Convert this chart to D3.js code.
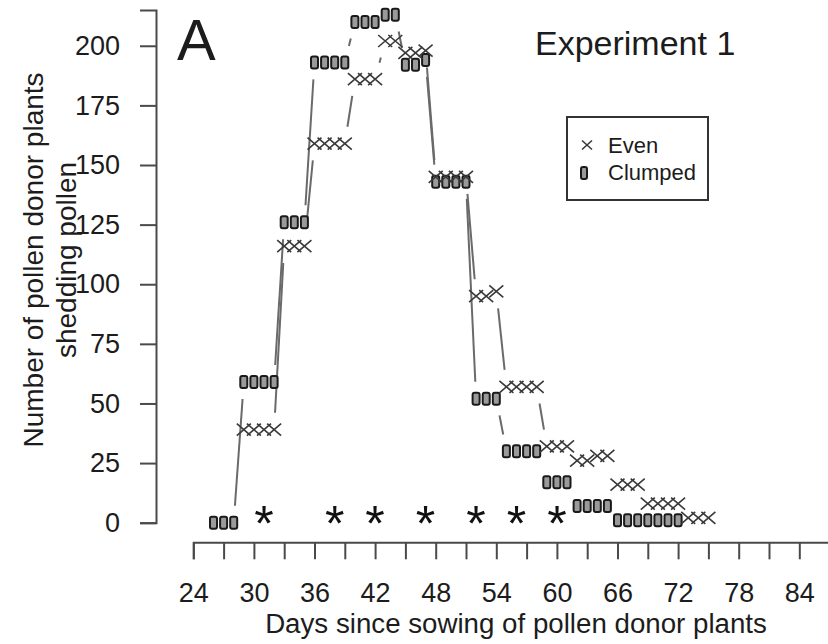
<!DOCTYPE html>
<html>
<head>
<meta charset="utf-8">
<script src="https://cdn.jsdelivr.net/npm/d3@7"></script>
<style>
  html, body { margin: 0; padding: 0; background: #fff; }
  svg { display: block; font-family: "Liberation Sans", Arial, Helvetica, sans-serif; }
</style>
</head>
<body>
<svg id="chart" width="828" height="644"></svg>
<script>
// Daily counts of pollen donor plants shedding pollen, Experiment 1
const evenDays   = [29, 30, 31, 32, 33, 34, 35, 36, 37, 38, 39, 40, 41, 42, 43, 44, 45, 46, 47,
                    48, 49, 50, 51, 52, 53, 54, 55, 56, 57, 58, 59, 60, 61, 62, 63, 64, 65,
                    66, 67, 68, 69, 70, 71, 72, 73, 74, 75];
const evenValues = [39, 39, 39, 39, 116, 116, 116, 159, 159, 159, 159, 186, 186, 186, 202, 202, 197, 197, 198,
                    145, 145, 145, 145, 95, 95, 97, 57, 57, 57, 57, 32, 32, 32, 26, 26, 28, 28,
                    16, 16, 16, 8, 8, 8, 8, 2, 2, 2];

const clumpedDays   = [26, 27, 28, 29, 30, 31, 32, 33, 34, 35, 36, 37, 38, 39, 40, 41, 42, 43, 44, 45, 46, 47,
                       48, 49, 50, 51, 52, 53, 54, 55, 56, 57, 58, 59, 60, 61, 62, 63, 64, 65,
                       66, 67, 68, 69, 70, 71, 72];
const clumpedValues = [0, 0, 0, 59, 59, 59, 59, 126, 126, 126, 193, 193, 193, 193, 210, 210, 210, 213, 213, 192, 192, 194,
                       143, 143, 143, 143, 52, 52, 52, 30, 30, 30, 30, 17, 17, 17, 7, 7, 7, 7,
                       1, 1, 1, 1, 1, 1, 1];

// Days with a significant difference between treatments
const starDays = [31, 38, 42, 47, 52, 56, 60];
const starLevel = 4;

const xTickValues  = [24, 27, 30, 33, 36, 39, 42, 45, 48, 51, 54, 57, 60, 63, 66, 69, 72, 75, 78, 81, 84, 87];
const xLabelValues = [24, 30, 36, 42, 48, 54, 60, 66, 72, 78, 84];
const yTickValues  = [0, 25, 50, 75, 100, 125, 150, 175, 200];

const seriesNames = ["Even", "Clumped"];

// ---- layout ----
const svg = d3.select("#chart");
const ink = "#1c1c1c";
const axisInk = "#4a4a4a";
const lineInk = "#6a6a6a";
const fontSize = 27;

const x = d3.scaleLinear().domain([24, 90]).range([193.3, 859.9]);
const y = d3.scaleLinear().domain([0, 215]).range([522.7, 10]);
const yAxisX = 156;
const xAxisY = 542.3;

// ---- axes ----
const yAxis = d3.axisLeft(y)
  .tickValues(yTickValues)
  .tickSize(16)
  .tickSizeOuter(16)
  .tickPadding(20);

const gy = svg.append("g").attr("transform", `translate(${yAxisX},0)`).call(yAxis);

const xAxis = d3.axisBottom(x)
  .tickValues(xTickValues)
  .tickSize(17)
  .tickSizeOuter(17)
  .tickPadding(24)
  .tickFormat(d => xLabelValues.includes(d) ? d : "");

const gx = svg.append("g").attr("transform", `translate(0,${xAxisY})`).call(xAxis);

[gx, gy].forEach(g => {
  g.select(".domain").attr("stroke", axisInk).attr("stroke-width", 2);
  g.selectAll(".tick line").attr("stroke", axisInk).attr("stroke-width", 2);
  g.selectAll(".tick text")
    .attr("fill", ink)
    .style("font-size", fontSize + "px")
    .style("font-family", '"Liberation Sans", Arial, sans-serif');
});

// ---- axis titles ----
svg.append("text")
  .attr("x", 516).attr("y", 633)
  .attr("text-anchor", "middle")
  .attr("fill", ink)
  .style("font-size", "27.7px")
  .text("Days since sowing of pollen donor plants");

const yTitle = svg.append("g").attr("transform", "translate(0,260) rotate(-90)");
yTitle.append("text")
  .attr("x", 0).attr("y", 43)
  .attr("text-anchor", "middle")
  .attr("fill", ink)
  .style("font-size", "28px")
  .text("Number of pollen donor plants");
yTitle.append("text")
  .attr("x", 0).attr("y", 76)
  .attr("text-anchor", "middle")
  .attr("fill", ink)
  .style("font-size", "28px")
  .text("shedding pollen");

// ---- panel label and title ----
svg.append("text")
  .attr("x", 177).attr("y", 60)
  .attr("fill", ink)
  .style("font-size", "58px")
  .text("A");

svg.append("text")
  .attr("x", 535).attr("y", 55)
  .attr("fill", ink)
  .style("font-size", "34px")
  .text("Experiment 1");

// ---- connecting lines (gapped around each point, like type = "b") ----
const gap = 17;
function gappedSegments(days, values) {
  const pts = days.map((d, i) => [x(d), y(values[i])]);
  const segs = [];
  for (let i = 0; i < pts.length - 1; i++) {
    const [x0, y0] = pts[i], [x1, y1] = pts[i + 1];
    const len = Math.hypot(x1 - x0, y1 - y0);
    if (len <= 2 * gap) continue;
    const ux = (x1 - x0) / len, uy = (y1 - y0) / len;
    segs.push([x0 + ux * gap, y0 + uy * gap, x1 - ux * gap, y1 - uy * gap]);
  }
  return segs;
}

const lineLayer = svg.append("g");
[[evenDays, evenValues], [clumpedDays, clumpedValues]].forEach(([ds, vs]) => {
  lineLayer.selectAll(null)
    .data(gappedSegments(ds, vs))
    .enter().append("line")
    .attr("x1", s => s[0]).attr("y1", s => s[1])
    .attr("x2", s => s[2]).attr("y2", s => s[3])
    .attr("stroke", lineInk)
    .attr("stroke-width", 2);
});

// ---- point symbols ----
const crossPath = (w, h) => `M${-w},${-h}L${w},${h}M${-w},${h}L${w},${-h}`;

function drawBox(g, cx, cy, w, h) {
  g.append("rect")
    .attr("x", cx - w / 2).attr("y", cy - h / 2)
    .attr("width", w).attr("height", h)
    .attr("rx", 2).attr("ry", 2)
    .attr("fill", "#9a9a9a")
    .attr("stroke", "#1a1a1a")
    .attr("stroke-width", 2);
}

const clumpedLayer = svg.append("g");
clumpedDays.forEach((d, i) => drawBox(clumpedLayer, x(d), y(clumpedValues[i]), 7, 12));

svg.append("g").selectAll("path")
  .data(evenDays.map((d, i) => ({ day: d, value: evenValues[i] })))
  .enter().append("path")
  .attr("transform", p => `translate(${x(p.day)},${y(p.value)})`)
  .attr("d", crossPath(7, 6))
  .attr("fill", "none")
  .attr("stroke", "#3a3a3a")
  .attr("stroke-width", 1.6);

// ---- significance stars ----
svg.append("g").selectAll("text")
  .data(starDays)
  .enter().append("text")
  .attr("x", d => x(d))
  .attr("y", y(starLevel) + 28)
  .attr("text-anchor", "middle")
  .attr("fill", "#111")
  .style("font-size", "50px")
  .text("*");

// ---- legend ----
const legend = svg.append("g");
legend.append("rect")
  .attr("x", 567).attr("y", 117)
  .attr("width", 141).attr("height", 83)
  .attr("fill", "#fff")
  .attr("stroke", "#333")
  .attr("stroke-width", 2);

legend.append("path")
  .attr("transform", "translate(587,145)")
  .attr("d", crossPath(5, 4.5))
  .attr("fill", "none")
  .attr("stroke", "#3a3a3a")
  .attr("stroke-width", 1.6);
drawBox(legend, 584, 173, 6, 12);

legend.selectAll("text")
  .data(seriesNames)
  .enter().append("text")
  .attr("x", 608)
  .attr("y", (d, i) => 153 + i * 27)
  .attr("fill", ink)
  .style("font-size", "22px")
  .text(d => d);
</script>
</body>
</html>
